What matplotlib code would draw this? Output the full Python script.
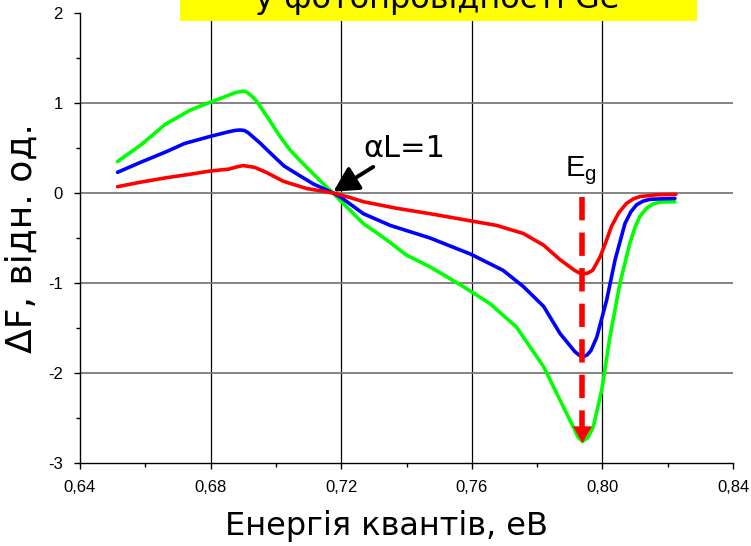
import matplotlib
matplotlib.use("Agg")
import matplotlib.pyplot as plt
from matplotlib.patches import Rectangle
from matplotlib.ticker import MultipleLocator, FixedLocator

# ---- data ----
red_x = [0.6515, 0.6585, 0.6665, 0.674, 0.680, 0.6855, 0.6880, 0.690, 0.6935, 0.697,
         0.7023, 0.7094, 0.7175, 0.7227, 0.7268, 0.737, 0.7472, 0.7597, 0.7676, 0.7758,
         0.782, 0.787, 0.7915, 0.7928, 0.794, 0.7955, 0.797, 0.7993, 0.8010, 0.8028,
         0.8050, 0.8074, 0.8095, 0.8115, 0.8165, 0.8225]
red_y = [0.07, 0.12, 0.17, 0.21, 0.245, 0.265, 0.29, 0.305, 0.285, 0.23,
         0.13, 0.05, 0.0, -0.05, -0.097, -0.17, -0.23, -0.31, -0.36, -0.45,
         -0.58, -0.74, -0.86, -0.885, -0.90, -0.89, -0.86, -0.71, -0.55, -0.37,
         -0.22, -0.115, -0.065, -0.04, -0.02, -0.015]

blue_x = [0.6515, 0.6585, 0.6665, 0.672, 0.680, 0.6855, 0.6875, 0.689, 0.6903, 0.6915,
          0.695, 0.699, 0.7025, 0.7074, 0.7115, 0.7175, 0.7196, 0.7268, 0.735, 0.7472,
          0.7597, 0.7696, 0.7758, 0.782, 0.787, 0.7915, 0.7928, 0.794, 0.7953, 0.7965,
          0.7983, 0.8013, 0.8039, 0.8069, 0.8087, 0.8105, 0.8125, 0.8146, 0.8222]
blue_y = [0.23, 0.34, 0.46, 0.55, 0.63, 0.68, 0.695, 0.70, 0.695, 0.67,
          0.56, 0.42, 0.30, 0.19, 0.10, 0.0, -0.04, -0.23, -0.36, -0.50,
          -0.68, -0.86, -1.04, -1.26, -1.56, -1.76, -1.80, -1.82, -1.80, -1.75,
          -1.60, -1.19, -0.74, -0.34, -0.21, -0.13, -0.09, -0.07, -0.06]

green_x = [0.6515, 0.6585, 0.666, 0.6737, 0.680, 0.6844, 0.6875, 0.6895, 0.6905, 0.6915,
           0.6925, 0.6941, 0.6982, 0.7012, 0.7043, 0.7074, 0.7104, 0.714, 0.7175, 0.7196,
           0.7268, 0.7339, 0.740, 0.7472, 0.7574, 0.7656, 0.7737, 0.782, 0.787, 0.7911,
           0.7925, 0.7939, 0.7955, 0.7972, 0.7998, 0.8023, 0.8054, 0.8084, 0.8100, 0.8115,
           0.8135, 0.8156, 0.8180, 0.8222]
green_y = [0.35, 0.53, 0.76, 0.92, 1.01, 1.07, 1.115, 1.13, 1.13, 1.11,
           1.08, 1.02, 0.80, 0.63, 0.48, 0.36, 0.25, 0.12, 0.0, -0.08,
           -0.34, -0.52, -0.69, -0.82, -1.04, -1.23, -1.49, -1.93, -2.30, -2.60,
           -2.71, -2.76, -2.72, -2.60, -2.19, -1.60, -1.00, -0.56, -0.38, -0.26,
           -0.17, -0.12, -0.10, -0.097]

x_ticks = [0.64, 0.68, 0.72, 0.76, 0.80, 0.84]
x_tick_labels = ["0,64", "0,68", "0,72", "0,76", "0,80", "0,84"]
y_ticks = [-3, -2, -1, 0, 1, 2]
y_tick_labels = ["-3", "-2", "-1", "0", "1", "2"]

eg_x = 0.7939
eg_top = -0.04
eg_bottom = -2.78

title_text = "у фотопровідності Ge"
xlabel_text = "Енергія квантів, еВ"
ylabel_text = "ΔF, відн. од."

# ---- figure ----
fig = plt.figure(figsize=(7.51, 5.46), dpi=100)
W, H = 751, 546
ax = fig.add_axes([80 / W, 1 - 463 / H, 653 / W, 450 / H])
ax.set_xlim(0.64, 0.84)
ax.set_ylim(-3, 2)

for s in ("top", "right"):
    ax.spines[s].set_visible(False)
for s in ("left", "bottom"):
    ax.spines[s].set_linewidth(1.0)
    ax.spines[s].set_color("black")

# grid lines
for gx in x_ticks[1:-1]:
    ax.axvline(gx, color="black", lw=0.9, zorder=1)
for gy in y_ticks[1:-1]:
    ax.axhline(gy, color="#7a7a7a", lw=1.3, zorder=1)

ax.xaxis.set_major_locator(FixedLocator(x_ticks))
ax.set_xticklabels(x_tick_labels)
ax.yaxis.set_major_locator(FixedLocator(y_ticks))
ax.set_yticklabels(y_tick_labels)
ax.xaxis.set_minor_locator(MultipleLocator(0.02))
ax.yaxis.set_minor_locator(MultipleLocator(0.5))
ax.tick_params(which="major", direction="out", length=4.5, width=1.0, pad=8,
               labelsize=12)
ax.tick_params(which="minor", direction="out", length=3, width=1.0)
for lab in ax.get_xticklabels() + ax.get_yticklabels():
    lab.set_family("Liberation Sans")

line_kw = dict(lw=2.6, zorder=3, solid_joinstyle="round", solid_capstyle="round")
ax.plot(green_x, green_y, color="#00ff00", **line_kw)
ax.plot(blue_x, blue_y, color="#0000ff", **line_kw)
ax.plot(red_x, red_y, color="#ff0000", **line_kw)

# dashed red Eg arrow
ax.plot([eg_x, eg_x], [eg_top, -2.6], color="#ff0000", lw=4.0,
        dashes=(4.2, 2.2), zorder=4, dash_capstyle="butt")
ax.annotate("", xy=(eg_x, eg_bottom), xytext=(eg_x, -2.6),
            arrowprops=dict(arrowstyle="-|>,head_length=0.6,head_width=0.34",
                            color="#ff0000", lw=0.1, shrinkA=0, shrinkB=0,
                            mutation_scale=20), zorder=5)
ax.text(0.7885, 0.19, "E$_{\\mathregular{g}}$", fontsize=21, family="Liberation Sans",
        ha="left", va="baseline", zorder=5)

# alpha L = 1 arrow
ax.annotate("", xy=(0.7176, 0.015), xytext=(0.7298, 0.29),
            arrowprops=dict(arrowstyle="-|>,head_length=0.75,head_width=0.4",
                            color="black", lw=2.8, shrinkA=0, shrinkB=0,
                            mutation_scale=20), zorder=5)
ax.text(0.7267, 0.40, "αL=1", fontsize=22, family="DejaVu Sans",
        ha="left", va="baseline", zorder=5)

ax.set_xlabel(xlabel_text, fontsize=23, family="DejaVu Sans")
ax.xaxis.label.set_va("baseline")
ax.xaxis.set_label_coords((386.5 - 80) / 653, -(535 - 463) / 450)
ax.set_ylabel(ylabel_text, fontsize=26, family="DejaVu Sans")
ax.yaxis.set_label_coords((39 - 80) / 653, 0.5)

# yellow title box (cut off at top, as in the original slide)
fig.patches.append(Rectangle((180 / W, 1 - 21 / H), 517 / W, 30 / H,
                             transform=fig.transFigure, facecolor="#ffff00",
                             edgecolor="none", zorder=1))
fig.text(437 / W, 1 - 7.6 / H, title_text, fontsize=23, family="DejaVu Sans",
         ha="center", va="baseline", zorder=3)

fig.savefig("out.png", dpi=100)
